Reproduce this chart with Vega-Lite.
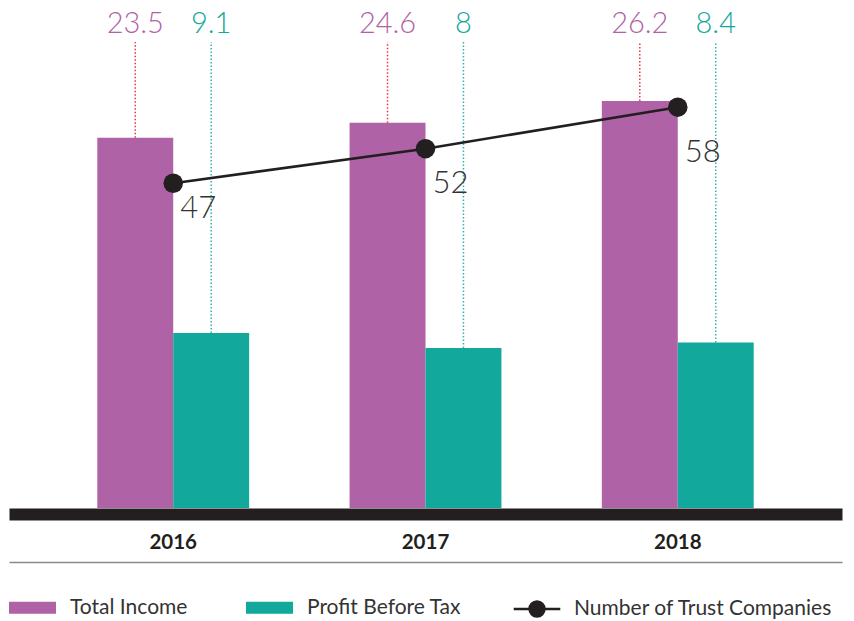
{
  "$schema": "https://vega.github.io/schema/vega-lite/v6.json",
  "width": 833,
  "height": 466,
  "autosize": {"type": "none"},
  "padding": {"left": 9, "top": 42, "right": 12, "bottom": 113},
  "background": "white",
  "config": {"view": {"stroke": null}, "font": "Lato"},
  "datasets": {
    "finance": [
      {"year": "2016", "series": "Total Income", "value": 23.5},
      {"year": "2016", "series": "Profit Before Tax", "value": 9.1},
      {"year": "2017", "series": "Total Income", "value": 24.6},
      {"year": "2017", "series": "Profit Before Tax", "value": 8},
      {"year": "2018", "series": "Total Income", "value": 26.2},
      {"year": "2018", "series": "Profit Before Tax", "value": 8.4}
    ],
    "companies": [
      {"year": "2016", "count": 47},
      {"year": "2017", "count": 52},
      {"year": "2018", "count": 58}
    ]
  },
  "resolve": {"scale": {"x": "independent", "y": "independent", "stroke": "independent"}, "axis": {"x": "independent"}},
  "layer": [
    {
      "data": {"name": "finance"},
      "layer": [
        {
          "mark": {"type": "bar"},
          "encoding": {
            "x": {"field": "year", "type": "nominal", "scale": {"type": "band", "domain": ["2016", "2017", "2018"], "paddingInner": 0.398, "paddingOuter": 0.35},
              "axis": {"orient": "bottom", "title": null, "domainWidth": 12, "domainColor": "#231f20", "domainCap": "butt", "offset": 6, "ticks": false, "tickSize": 0, "labelPadding": 18, "labelFont": "Lato", "labelFontWeight": "bold", "labelFontSize": 20.5, "labelColor": "#231f20", "labelAngle": 0}},
            "xOffset": {"field": "series", "type": "nominal", "scale": {"domain": ["Total Income", "Profit Before Tax"], "paddingInner": 0, "paddingOuter": 0}},
            "y": {"field": "value", "type": "quantitative", "scale": {"domain": [-3.79, 30.55], "zero": false, "nice": false}, "axis": null},
            "y2": {"datum": -3.79},
            "fill": {"field": "series", "type": "nominal", "scale": {"domain": ["Total Income", "Profit Before Tax"], "range": ["#b062a6", "#12a89b"]},
              "legend": {"title": null, "orient": "none", "legendX": 0, "legendY": 542, "direction": "horizontal", "symbolType": "M-1,-0.26H1V0.26H-1Z", "symbolSize": 2209, "symbolStrokeWidth": 0, "symbolOpacity": 1, "labelFont": "Lato", "labelFontSize": 21, "labelColor": "#333333", "labelOffset": 14, "labelLimit": 400, "columnPadding": 58, "padding": 0}}
          }
        },
        {
          "mark": {"type": "rule", "strokeDash": [1.5, 2], "strokeWidth": 1.5},
          "encoding": {
            "x": {"field": "year", "type": "nominal"},
            "xOffset": {"field": "series", "type": "nominal"},
            "y": {"field": "value", "type": "quantitative"},
            "y2": {"datum": 30.55},
            "stroke": {"field": "series", "type": "nominal", "scale": {"domain": ["Total Income", "Profit Before Tax"], "range": ["#ee3342", "#2fb5a9"]}, "legend": null}
          }
        },
        {
          "mark": {"type": "text", "font": "Lato", "fontWeight": 300, "fontSize": 29, "baseline": "alphabetic", "dy": -9},
          "encoding": {
            "x": {"field": "year", "type": "nominal"},
            "xOffset": {"field": "series", "type": "nominal"},
            "y": {"datum": 30.55, "type": "quantitative"},
            "text": {"field": "value", "type": "quantitative"},
            "fill": {"field": "series", "type": "nominal", "legend": null}
          }
        }
      ]
    },
    {
      "data": {"name": "companies"},
      "layer": [
        {
          "mark": {"type": "line", "strokeWidth": 2.6},
          "encoding": {
            "x": {"field": "year", "type": "nominal", "scale": {"type": "band", "domain": ["2016", "2017", "2018"], "paddingInner": 0.398, "paddingOuter": 0.35},
              "axis": {"orient": "bottom", "title": null, "labels": false, "ticks": false, "offset": 54, "domainColor": "#8a8a8a", "domainWidth": 1.5}},
            "y": {"field": "count", "type": "quantitative", "scale": {"domain": [0, 67.44], "nice": false}, "axis": null},
            "stroke": {"datum": "Number of Trust Companies", "type": "nominal", "scale": {"range": ["#231f20"]},
              "legend": {"title": null, "orient": "none", "legendX": 503, "legendY": 542, "symbolType": "M-1,0H1M-0.32,0A0.32,0.32 0 1,1 0.32,0A0.32,0.32 0 1,1 -0.32,0Z", "symbolSize": 2170, "symbolStrokeWidth": 2.5, "labelFont": "Lato", "labelFontSize": 21, "labelColor": "#333333", "labelOffset": 12, "labelLimit": 400, "padding": 0,
                "encode": {"symbols": {"update": {"fill": {"value": "#231f20"}, "stroke": {"value": "#231f20"}, "opacity": {"value": 1}}}}}}
          }
        },
        {
          "mark": {"type": "point", "filled": true, "size": 380, "opacity": 1, "color": "#231f20"},
          "encoding": {
            "x": {"field": "year", "type": "nominal"},
            "y": {"field": "count", "type": "quantitative"}
          }
        }
      ]
    },
    {
      "data": {"name": "companies"},
      "mark": {"type": "text", "font": "Lato", "fontWeight": 300, "fontSize": 31, "baseline": "alphabetic", "align": "left", "dx": 7, "color": "#333333"},
      "encoding": {
        "x": {"field": "year", "type": "nominal", "scale": {"type": "band", "domain": ["2016", "2017", "2018"], "paddingInner": 0.398, "paddingOuter": 0.35}, "axis": null},
        "y": {"field": "count", "type": "quantitative", "scale": {"domain": [-9.96, 81.6], "zero": false, "nice": false}, "axis": null},
        "text": {"field": "count", "type": "quantitative"}
      }
    }
  ]
}
